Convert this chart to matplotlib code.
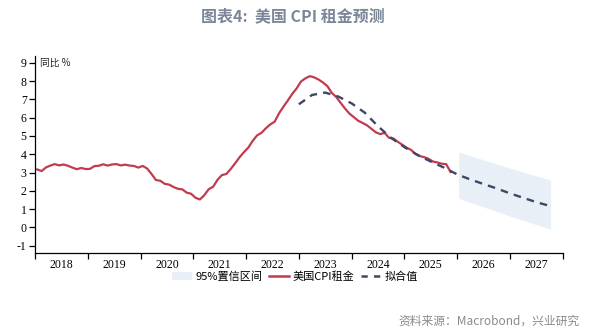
import numpy as np
import matplotlib
matplotlib.use("Agg")
import matplotlib.pyplot as plt
from matplotlib.patches import Patch
from matplotlib.lines import Line2D

# 美国CPI租金 同比 %, 月度 2018-01 ~ 2025-11
rent_2018 = [3.17, 3.08, 3.28, 3.38, 3.46, 3.39, 3.44, 3.37, 3.27, 3.18, 3.25, 3.19]
rent_2019 = [3.20, 3.35, 3.37, 3.45, 3.38, 3.44, 3.46, 3.39, 3.43, 3.38, 3.36, 3.27]
rent_2020 = [3.36, 3.22, 2.92, 2.59, 2.55, 2.38, 2.34, 2.21, 2.11, 2.08, 1.90, 1.84]
rent_2021 = [1.62, 1.53, 1.76, 2.09, 2.22, 2.60, 2.86, 2.92, 3.19, 3.50, 3.83, 4.11]
rent_2022 = [4.36, 4.73, 5.03, 5.17, 5.42, 5.63, 5.78, 6.24, 6.60, 6.94, 7.30, 7.60]
rent_2023 = [7.98, 8.15, 8.27, 8.20, 8.08, 7.92, 7.72, 7.35, 7.13, 6.81, 6.50, 6.22]
rent_2024 = [6.03, 5.83, 5.71, 5.58, 5.39, 5.20, 5.10, 5.17, 4.90, 4.86, 4.68, 4.52]
rent_2025 = [4.36, 4.24, 4.02, 3.90, 3.84, 3.75, 3.60, 3.55, 3.48, 3.46, 3.03]
rent = rent_2018 + rent_2019 + rent_2020 + rent_2021 + rent_2022 + rent_2023 + rent_2024 + rent_2025
rent_x = 2018 + (np.arange(len(rent)) + 0.5) / 12

# 拟合值, 季度
fit_x = [2023.0, 2023.25, 2023.5, 2023.75, 2024.0, 2024.25, 2024.5, 2024.75,
         2025.0, 2025.25, 2025.5, 2025.75, 2026.0, 2026.25, 2026.5, 2026.75,
         2027.0, 2027.25, 2027.5, 2027.75]
fit_y = [6.73, 7.24, 7.37, 7.15, 6.78, 6.27, 5.53, 4.89,
         4.39, 3.96, 3.60, 3.27, 2.90, 2.62, 2.37, 2.13,
         1.86, 1.62, 1.38, 1.18]

# 95%置信区间
band_x = [2026.03, 2027.0, 2027.77]
band_hi = [4.12, 3.24, 2.59]
band_lo = [1.59, 0.62, -0.10]

years = list(range(2018, 2028))
yticks = list(range(-1, 10))

red = "#c23b4e"
navy = "#3c4866"
band_c = "#e9eff6"
num_font = ["Liberation Serif", "Noto Sans CJK SC"]
cjk = ["Noto Sans CJK SC", "DejaVu Sans"]

fig = plt.figure(figsize=(6.02, 3.33), dpi=100)
ax = fig.add_axes([35 / 602, 1 - 253.3 / 333, (562.7 - 35) / 602, (253.3 - 56) / 333])

ax.fill_between(band_x, band_lo, band_hi, color=band_c, lw=0)
ax.plot(rent_x, rent, color=red, lw=1.6)
ax.plot(fit_x, fit_y, color=navy, lw=1.7, dashes=(3.2, 2.6))

ax.set_xlim(2018, 2028)
ax.set_ylim(-1.415, 9.37)
ax.set_xticks(years + [2028])
ax.set_xticklabels([])
ax.set_xticks([y + 0.5 for y in years], minor=True)
ax.set_xticklabels([str(y) for y in years], minor=True, family=num_font, fontsize=8.5)
ax.tick_params(axis="x", which="major", length=4, width=0.9, direction="out")
ax.tick_params(axis="x", which="minor", length=0, pad=4)
ax.set_yticks(yticks)
ax.set_yticklabels([str(v) for v in yticks], family=num_font, fontsize=8.5)
ax.tick_params(axis="y", length=4, width=0.9, pad=2)
for s in ["top", "right"]:
    ax.spines[s].set_visible(False)
for s in ["left", "bottom"]:
    ax.spines[s].set_linewidth(0.9)

ax.text(0.01, 0.965, "同比 %", transform=ax.transAxes, family=cjk, fontsize=7,
        va="center", ha="left", color="#222222")

handles = [Patch(facecolor=band_c, edgecolor="none"),
           Line2D([], [], color=red, lw=1.8),
           Line2D([], [], color=navy, lw=1.8, dashes=(2.5, 2.5))]
fig.legend(handles, ["95%置信区间", "美国CPI租金", "拟合值"], loc="center",
           bbox_to_anchor=(295 / 602, 1 - 277 / 333), ncol=3, frameon=False,
           prop={"family": cjk, "size": 8}, handlelength=1.8, handletextpad=0.3,
           columnspacing=0.6, borderpad=0)

fig.text(293 / 602, 1 - 16 / 333, "图表4:  美国 CPI 租金预测", ha="center", va="center",
         family=cjk, fontsize=11.5, fontweight="bold", color="#7b8799")
fig.text(580 / 602, 1 - 321 / 333, "资料来源：Macrobond，兴业研究", ha="right", va="center",
         family=cjk, fontsize=8.5, color="#8a8a8a")

fig.savefig("out.png", dpi=100)
